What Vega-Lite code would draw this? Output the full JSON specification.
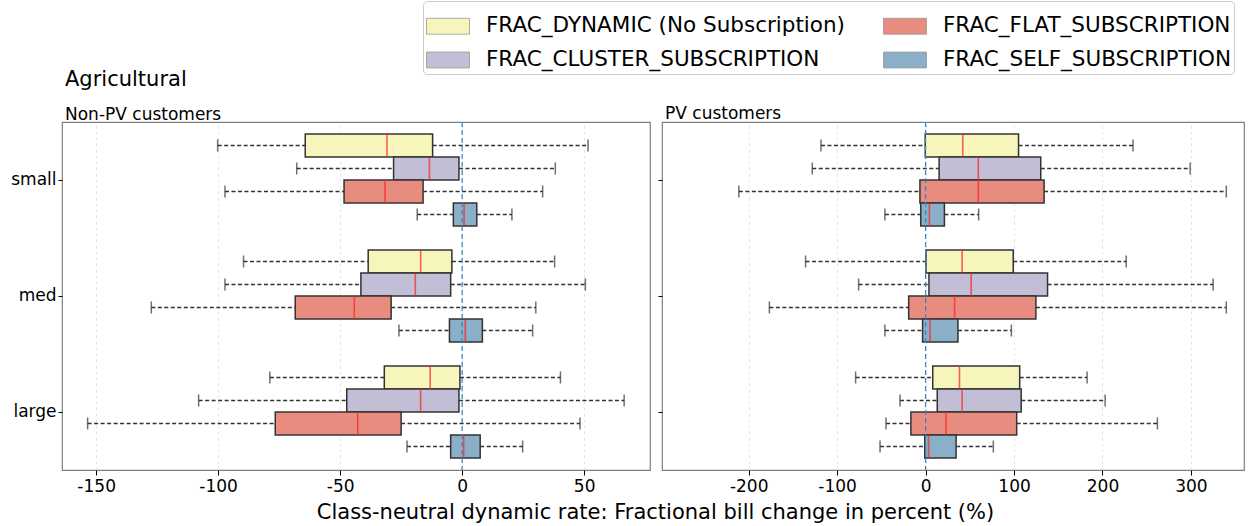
{
  "$schema": "https://vega.github.io/schema/vega-lite/v6.json",
  "padding": {"left": 10, "top": 0, "right": 4, "bottom": 2},
  "bounds": "flush",
  "spacing": 12,
  "config": {
    "font": "DejaVu Sans",
    "view": {"stroke": "#7f7f7f", "strokeWidth": 1.2},
    "axis": {"labelColor": "black", "tickColor": "black", "domain": false, "titleColor": "black", "titleFontWeight": "normal"}
  },
  "datasets": {
    "boxes": [
      {"panel": "Non-PV customers", "size": "small", "series": "FRAC_DYNAMIC (No Subscription)", "lo": -100.2, "q1": -64.3, "med": -30.8, "q3": -12.1, "hi": 51.6},
      {"panel": "Non-PV customers", "size": "small", "series": "FRAC_CLUSTER_SUBSCRIPTION", "lo": -67.8, "q1": -28.1, "med": -13.4, "q3": -1.3, "hi": 38.2},
      {"panel": "Non-PV customers", "size": "small", "series": "FRAC_FLAT_SUBSCRIPTION", "lo": -97.2, "q1": -48.4, "med": -31.6, "q3": -16.0, "hi": 33.0},
      {"panel": "Non-PV customers", "size": "small", "series": "FRAC_SELF_SUBSCRIPTION", "lo": -18.4, "q1": -3.6, "med": 0.8, "q3": 6.0, "hi": 20.4},
      {"panel": "Non-PV customers", "size": "med", "series": "FRAC_DYNAMIC (No Subscription)", "lo": -89.6, "q1": -38.5, "med": -17.0, "q3": -4.2, "hi": 37.9},
      {"panel": "Non-PV customers", "size": "med", "series": "FRAC_CLUSTER_SUBSCRIPTION", "lo": -97.2, "q1": -41.5, "med": -19.2, "q3": -4.7, "hi": 50.5},
      {"panel": "Non-PV customers", "size": "med", "series": "FRAC_FLAT_SUBSCRIPTION", "lo": -127.4, "q1": -68.4, "med": -44.2, "q3": -29.1, "hi": 30.2},
      {"panel": "Non-PV customers", "size": "med", "series": "FRAC_SELF_SUBSCRIPTION", "lo": -25.9, "q1": -5.2, "med": 1.3, "q3": 8.3, "hi": 28.9},
      {"panel": "Non-PV customers", "size": "large", "series": "FRAC_DYNAMIC (No Subscription)", "lo": -78.8, "q1": -31.9, "med": -13.1, "q3": -0.9, "hi": 40.3},
      {"panel": "Non-PV customers", "size": "large", "series": "FRAC_CLUSTER_SUBSCRIPTION", "lo": -108.0, "q1": -47.3, "med": -17.0, "q3": -1.3, "hi": 66.4},
      {"panel": "Non-PV customers", "size": "large", "series": "FRAC_FLAT_SUBSCRIPTION", "lo": -153.5, "q1": -76.6, "med": -42.8, "q3": -25.0, "hi": 48.3},
      {"panel": "Non-PV customers", "size": "large", "series": "FRAC_SELF_SUBSCRIPTION", "lo": -22.6, "q1": -4.7, "med": 0.6, "q3": 7.4, "hi": 24.8},
      {"panel": "PV customers", "size": "small", "series": "FRAC_DYNAMIC (No Subscription)", "lo": -118.3, "q1": -0.4, "med": 42.1, "q3": 105.1, "hi": 234.5},
      {"panel": "PV customers", "size": "small", "series": "FRAC_CLUSTER_SUBSCRIPTION", "lo": -128.1, "q1": 15.3, "med": 59.6, "q3": 130.2, "hi": 299.1},
      {"panel": "PV customers", "size": "small", "series": "FRAC_FLAT_SUBSCRIPTION", "lo": -211.1, "q1": -6.4, "med": 59.6, "q3": 134.0, "hi": 340.0},
      {"panel": "PV customers", "size": "small", "series": "FRAC_SELF_SUBSCRIPTION", "lo": -46.0, "q1": -5.5, "med": 4.3, "q3": 21.3, "hi": 60.0},
      {"panel": "PV customers", "size": "med", "series": "FRAC_DYNAMIC (No Subscription)", "lo": -135.7, "q1": 0.4, "med": 41.3, "q3": 99.1, "hi": 226.8},
      {"panel": "PV customers", "size": "med", "series": "FRAC_CLUSTER_SUBSCRIPTION", "lo": -75.7, "q1": 3.8, "med": 51.5, "q3": 137.9, "hi": 325.1},
      {"panel": "PV customers", "size": "med", "series": "FRAC_FLAT_SUBSCRIPTION", "lo": -176.6, "q1": -19.1, "med": 32.8, "q3": 124.7, "hi": 340.0},
      {"panel": "PV customers", "size": "med", "series": "FRAC_SELF_SUBSCRIPTION", "lo": -46.0, "q1": -3.4, "med": 5.1, "q3": 36.6, "hi": 97.0},
      {"panel": "PV customers", "size": "large", "series": "FRAC_DYNAMIC (No Subscription)", "lo": -79.1, "q1": 8.1, "med": 38.3, "q3": 106.4, "hi": 182.6},
      {"panel": "PV customers", "size": "large", "series": "FRAC_CLUSTER_SUBSCRIPTION", "lo": -28.9, "q1": 13.2, "med": 41.3, "q3": 108.1, "hi": 203.0},
      {"panel": "PV customers", "size": "large", "series": "FRAC_FLAT_SUBSCRIPTION", "lo": -44.7, "q1": -16.6, "med": 23.0, "q3": 103.0, "hi": 262.1},
      {"panel": "PV customers", "size": "large", "series": "FRAC_SELF_SUBSCRIPTION", "lo": -51.5, "q1": -0.9, "med": 3.4, "q3": 34.5, "hi": 76.6}
    ]
  },
  "resolve": {"scale": {"x": "independent", "y": "independent", "color": "shared"}},
  "hconcat": [
    {
      "width": 588,
      "height": 348,
      "title": {"text": "Agricultural", "subtitle": "Non-PV customers", "anchor": "start", "frame": "group", "fontSize": 21, "fontWeight": "normal", "color": "black", "subtitleFontSize": 17, "subtitleColor": "black", "subtitlePadding": 17, "offset": -2, "dx": 3},
      "data": {"name": "boxes"},
      "transform": [{"filter": "datum.panel === 'Non-PV customers'"}],
      "layer": [
        {
          "mark": {"type": "rule", "color": "#333333", "strokeWidth": 1.3, "strokeDash": [4, 2.5]},
          "encoding": {
            "x": {"field": "lo", "type": "quantitative", "title": "Class-neutral dynamic rate: Fractional bill change in percent (%)",
              "scale": {"domain": [-164, 77], "nice": false, "zero": false},
              "axis": {"values": [-150, -100, -50, 0, 50], "labelExpr": "'' + datum.value", "labelFontSize": 17, "labelPadding": 3, "tickSize": 5, "grid": true, "gridColor": "#dddddd", "gridDash": [3, 3], "gridWidth": 0.8, "titleFontSize": 21, "titleX": 593, "titleY": 42, "titleAlign": "center", "titleBaseline": "middle"}},
            "x2": {"field": "q1"},
            "y": {"field": "size", "type": "nominal", "scale": {"domain": ["small", "med", "large"], "paddingInner": 0, "paddingOuter": 0},
              "axis": {"title": null, "labelFontSize": 17, "tickSize": 4, "labelPadding": 2, "grid": false}},
            "yOffset": {"field": "series", "type": "nominal", "scale": {"domain": ["FRAC_DYNAMIC (No Subscription)", "FRAC_CLUSTER_SUBSCRIPTION", "FRAC_FLAT_SUBSCRIPTION", "FRAC_SELF_SUBSCRIPTION"], "paddingInner": 0, "paddingOuter": 0.52}}
          }
        },
        {
          "mark": {"type": "rule", "color": "#333333", "strokeWidth": 1.3, "strokeDash": [4, 2.5]},
          "encoding": {
            "x": {"field": "q3", "type": "quantitative", "title": "Class-neutral dynamic rate: Fractional bill change in percent (%)"},
            "x2": {"field": "hi"},
            "y": {"field": "size", "type": "nominal"},
            "yOffset": {"field": "series", "type": "nominal"}
          }
        },
        {
          "mark": {"type": "tick", "color": "#333333", "size": 12, "thickness": 1.5, "orient": "vertical"},
          "encoding": {
            "x": {"field": "lo", "type": "quantitative", "title": "Class-neutral dynamic rate: Fractional bill change in percent (%)"},
            "y": {"field": "size", "type": "nominal"},
            "yOffset": {"field": "series", "type": "nominal"}
          }
        },
        {
          "mark": {"type": "tick", "color": "#333333", "size": 12, "thickness": 1.5, "orient": "vertical"},
          "encoding": {
            "x": {"field": "hi", "type": "quantitative", "title": "Class-neutral dynamic rate: Fractional bill change in percent (%)"},
            "y": {"field": "size", "type": "nominal"},
            "yOffset": {"field": "series", "type": "nominal"}
          }
        },
        {
          "mark": {"type": "bar", "stroke": "#333333", "strokeWidth": 1.5, "opacity": 1},
          "encoding": {
            "x": {"field": "q1", "type": "quantitative", "title": "Class-neutral dynamic rate: Fractional bill change in percent (%)"},
            "x2": {"field": "q3"},
            "y": {"field": "size", "type": "nominal"},
            "yOffset": {"field": "series", "type": "nominal"},
            "color": {"field": "series", "type": "nominal",
              "scale": {"domain": ["FRAC_DYNAMIC (No Subscription)", "FRAC_CLUSTER_SUBSCRIPTION", "FRAC_FLAT_SUBSCRIPTION", "FRAC_SELF_SUBSCRIPTION"], "range": ["#f5f5bc", "#c2bed6", "#e98c80", "#8aafc8"]},
              "legend": {"orient": "none", "legendX": 361, "legendY": -121, "columns": 2, "title": null, "labelFontSize": 21.5, "labelColor": "black", "labelLimit": 600, "symbolType": "M-1,-0.37H1V0.37H-1Z", "symbolSize": 1849, "symbolStrokeColor": "#999999", "symbolStrokeWidth": 0.8, "symbolOpacity": 1, "labelOffset": 16, "columnPadding": 35, "rowPadding": 1, "padding": 3, "strokeColor": "#cccccc", "cornerRadius": 4, "fillColor": "white"}}
          }
        },
        {
          "mark": {"type": "tick", "color": "#ff2020", "size": 23, "thickness": 1.6, "orient": "vertical"},
          "encoding": {
            "x": {"field": "med", "type": "quantitative", "title": "Class-neutral dynamic rate: Fractional bill change in percent (%)"},
            "y": {"field": "size", "type": "nominal"},
            "yOffset": {"field": "series", "type": "nominal"}
          }
        },
        {
          "data": {"values": [{"panel": "Non-PV customers", "zero": 0}]},
          "mark": {"type": "rule", "color": "#2f86c8", "strokeWidth": 1.2, "strokeDash": [5, 3]},
          "encoding": {
            "x": {"field": "zero", "type": "quantitative", "title": "Class-neutral dynamic rate: Fractional bill change in percent (%)"}
          }
        }
      ]
    },
    {
      "width": 582,
      "height": 348,
      "title": {"text": "PV customers", "anchor": "start", "frame": "group", "fontSize": 17, "fontWeight": "normal", "color": "black", "offset": -2, "dx": 3},
      "data": {"name": "boxes"},
      "transform": [{"filter": "datum.panel === 'PV customers'"}],
      "layer": [
        {
          "mark": {"type": "rule", "color": "#333333", "strokeWidth": 1.3, "strokeDash": [4, 2.5]},
          "encoding": {
            "x": {"field": "lo", "type": "quantitative", "title": null,
              "scale": {"domain": [-298, 360], "nice": false, "zero": false},
              "axis": {"values": [-200, -100, 0, 100, 200, 300], "labelExpr": "'' + datum.value", "labelFontSize": 17, "labelPadding": 3, "tickSize": 5, "grid": true, "gridColor": "#dddddd", "gridDash": [3, 3], "gridWidth": 0.8}},
            "x2": {"field": "q1"},
            "y": {"field": "size", "type": "nominal", "scale": {"domain": ["small", "med", "large"], "paddingInner": 0, "paddingOuter": 0},
              "axis": {"title": null, "labels": false, "tickSize": 4, "grid": false}},
            "yOffset": {"field": "series", "type": "nominal", "scale": {"domain": ["FRAC_DYNAMIC (No Subscription)", "FRAC_CLUSTER_SUBSCRIPTION", "FRAC_FLAT_SUBSCRIPTION", "FRAC_SELF_SUBSCRIPTION"], "paddingInner": 0, "paddingOuter": 0.52}}
          }
        },
        {
          "mark": {"type": "rule", "color": "#333333", "strokeWidth": 1.3, "strokeDash": [4, 2.5]},
          "encoding": {
            "x": {"field": "q3", "type": "quantitative", "title": null},
            "x2": {"field": "hi"},
            "y": {"field": "size", "type": "nominal"},
            "yOffset": {"field": "series", "type": "nominal"}
          }
        },
        {
          "mark": {"type": "tick", "color": "#333333", "size": 12, "thickness": 1.5, "orient": "vertical"},
          "encoding": {
            "x": {"field": "lo", "type": "quantitative", "title": null},
            "y": {"field": "size", "type": "nominal"},
            "yOffset": {"field": "series", "type": "nominal"}
          }
        },
        {
          "mark": {"type": "tick", "color": "#333333", "size": 12, "thickness": 1.5, "orient": "vertical"},
          "encoding": {
            "x": {"field": "hi", "type": "quantitative", "title": null},
            "y": {"field": "size", "type": "nominal"},
            "yOffset": {"field": "series", "type": "nominal"}
          }
        },
        {
          "mark": {"type": "bar", "stroke": "#333333", "strokeWidth": 1.5, "opacity": 1},
          "encoding": {
            "x": {"field": "q1", "type": "quantitative", "title": null},
            "x2": {"field": "q3"},
            "y": {"field": "size", "type": "nominal"},
            "yOffset": {"field": "series", "type": "nominal"},
            "color": {"field": "series", "type": "nominal",
              "scale": {"domain": ["FRAC_DYNAMIC (No Subscription)", "FRAC_CLUSTER_SUBSCRIPTION", "FRAC_FLAT_SUBSCRIPTION", "FRAC_SELF_SUBSCRIPTION"], "range": ["#f5f5bc", "#c2bed6", "#e98c80", "#8aafc8"]},
              "legend": {"orient": "none", "legendX": 361, "legendY": -121, "columns": 2, "title": null, "labelFontSize": 21.5, "labelColor": "black", "labelLimit": 600, "symbolType": "M-1,-0.37H1V0.37H-1Z", "symbolSize": 1849, "symbolStrokeColor": "#999999", "symbolStrokeWidth": 0.8, "symbolOpacity": 1, "labelOffset": 16, "columnPadding": 35, "rowPadding": 1, "padding": 3, "strokeColor": "#cccccc", "cornerRadius": 4, "fillColor": "white"}}
          }
        },
        {
          "mark": {"type": "tick", "color": "#ff2020", "size": 23, "thickness": 1.6, "orient": "vertical"},
          "encoding": {
            "x": {"field": "med", "type": "quantitative", "title": null},
            "y": {"field": "size", "type": "nominal"},
            "yOffset": {"field": "series", "type": "nominal"}
          }
        },
        {
          "data": {"values": [{"panel": "PV customers", "zero": 0}]},
          "mark": {"type": "rule", "color": "#2f86c8", "strokeWidth": 1.2, "strokeDash": [5, 3]},
          "encoding": {
            "x": {"field": "zero", "type": "quantitative", "title": null}
          }
        }
      ]
    }
  ]
}
